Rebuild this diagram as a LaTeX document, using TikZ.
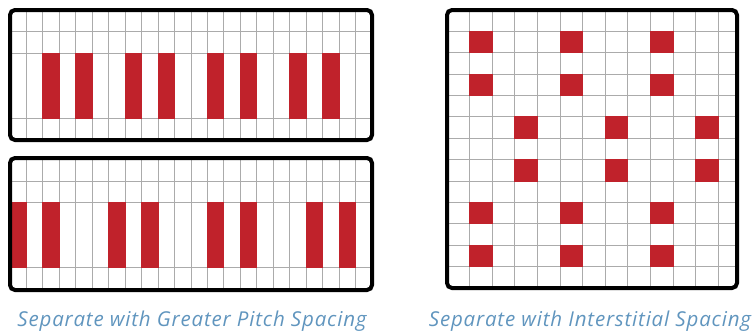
\documentclass[tikz,border=0pt]{standalone}
\usepackage{fontspec}
\setmainfont{Open Sans}[LetterSpace=4]
\definecolor{barred}{HTML}{C0222B}
\definecolor{gridgray}{HTML}{ABABAB}
\definecolor{captionblue}{HTML}{6095BE}
\tikzset{
  frame/.style={draw=black,line width=4pt,rounded corners=5pt},
  gridline/.style={draw=gridgray,line width=0.9pt},
  redcell/.style={fill=barred,draw=barred,line width=0.9pt},
  caption/.style={text=captionblue,font=\itshape\fontsize{20.5}{24}\selectfont,inner sep=0pt,anchor=base}
}
\begin{document}
\begin{tikzpicture}[x=1pt,y=-1pt]
\useasboundingbox (0,0) rectangle (754,332);
% ---------- top-left panel ----------
\begin{scope}
  \clip[rounded corners=5pt] (10,10) rectangle (372,140);
  \fill[white] (10,10) rectangle (372,140);
  \foreach \i in {1,...,21} \draw[gridline] ({10+\i*362/22},10) -- ({10+\i*362/22},140);
  \foreach \y in {31.7,53.4,118.3} \draw[gridline] (10,\y) -- (372,\y);
  \foreach \c in {2,4,7,9,12,14,17,19}
    \path[redcell] ({10+\c*362/22},53.4) rectangle ({10+(\c+1)*362/22},118.3);
\end{scope}
\draw[frame] (10,10) rectangle (372,140);
% ---------- bottom-left panel ----------
\begin{scope}
  \clip[rounded corners=5pt] (10,158) rectangle (372,290);
  \fill[white] (10,158) rectangle (372,290);
  \foreach \i in {1,...,21} \draw[gridline] ({10+\i*362/22},158) -- ({10+\i*362/22},290);
  \foreach \y in {181,202.5,267} \draw[gridline] (10,\y) -- (372,\y);
  \foreach \c in {0,2,6,8,12,14,18,20}
    \path[redcell] ({10+\c*362/22},202.5) rectangle ({10+(\c+1)*362/22},267);
\end{scope}
\draw[frame] (10,158) rectangle (372,290);
% ---------- right panel ----------
\begin{scope}
  \clip[rounded corners=5pt] (447,10) rectangle (737,288);
  \fill[white] (447,10) rectangle (737,288);
  \foreach \i in {1,...,12} \draw[gridline] ({447+\i*22.6},10) -- ({447+\i*22.6},288);
  \foreach \j in {1,...,12} \draw[gridline] (447,{10+\j*278/13}) -- (737,{10+\j*278/13});
  \foreach \r in {1,3,9,11}
    \foreach \c in {1,5,9}
      \path[redcell] ({447+\c*22.6},{10+\r*278/13}) rectangle ({447+(\c+1)*22.6},{10+(\r+1)*278/13});
  \foreach \r in {5,7}
    \foreach \c in {3,7,11}
      \path[redcell] ({447+\c*22.6},{10+\r*278/13}) rectangle ({447+(\c+1)*22.6},{10+(\r+1)*278/13});
\end{scope}
\draw[frame] (447,10) rectangle (737,288);
% ---------- captions ----------
\node[caption] (capleft) at (192,326) {Separate with Greater Pitch Spacing};
\node[caption] (capright) at (590,326) {Separate with Interstitial Spacing};
\end{tikzpicture}
\end{document}
